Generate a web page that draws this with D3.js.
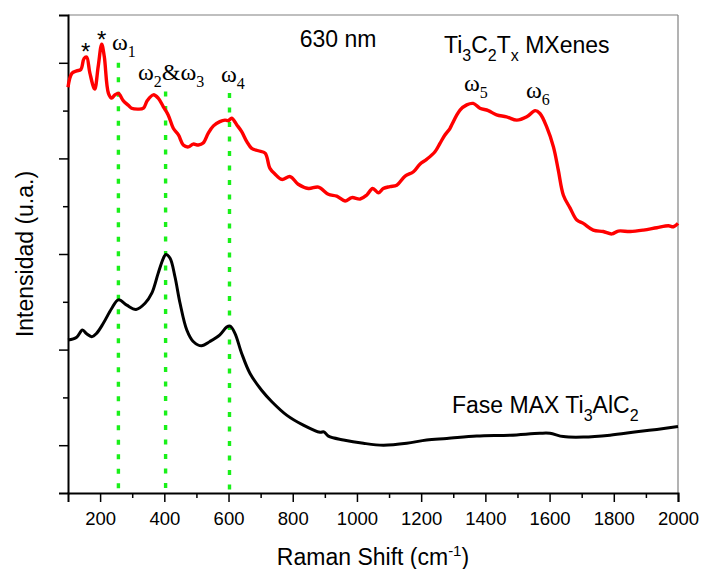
<!DOCTYPE html>
<html lang="en">
<head>
<meta charset="UTF-8">
<title>Raman Ti3C2Tx</title>
<script src="https://cdnjs.cloudflare.com/ajax/libs/d3/7.8.5/d3.min.js"></script>
<style>
  body { margin: 0; background: #fff; }
  text { font-family: "Liberation Sans", Arial, sans-serif; fill: #000; }
  .greek { font-family: "Liberation Serif", "Times New Roman", serif; }
</style>
</head>
<body>
<svg id="chart" width="703" height="569"></svg>
<script>
// Raman shift (cm-1) and intensity (a.u.)
var mxeneShift = [100, 112, 127, 140, 150, 158, 168, 183, 194, 205, 213, 226, 236, 246, 257, 272, 288, 298, 319, 335,
  347, 366, 381, 397, 412, 428, 444, 459, 475, 490, 506, 521, 537, 553, 573, 589, 599, 610, 626, 641,
  657, 672, 693, 714, 729, 745, 766, 792, 817, 849, 880, 911, 937, 963, 984, 1010, 1030, 1049, 1067, 1082,
  1103, 1124, 1150, 1176, 1196, 1217, 1243, 1259, 1274, 1290, 1295, 1321, 1342, 1362, 1383, 1409, 1435, 1466, 1498, 1529,
  1555, 1570, 1591, 1612, 1627, 1643, 1664, 1685, 1705, 1736, 1767, 1794, 1814, 1851, 1892, 1934, 1970, 1986, 2000];
var mxeneInt = [8.49, 8.78, 8.83, 8.86, 9.09, 9.12, 8.79, 8.45, 8.92, 9.39, 9.13, 8.36, 8.26, 8.33, 8.36, 8.21, 8.11, 8.05, 8.03, 8.05,
  8.21, 8.33, 8.26, 8.08, 7.91, 7.63, 7.49, 7.28, 7.24, 7.30, 7.28, 7.32, 7.53, 7.68, 7.77, 7.80, 7.79, 7.84, 7.70, 7.56,
  7.35, 7.21, 7.16, 7.11, 6.79, 6.67, 6.56, 6.62, 6.46, 6.37, 6.40, 6.25, 6.21, 6.11, 6.18, 6.15, 6.23, 6.37, 6.28, 6.37,
  6.41, 6.44, 6.63, 6.72, 6.88, 6.98, 7.14, 7.32, 7.49, 7.63, 7.70, 8.01, 8.12, 8.15, 8.05, 8.00, 7.91, 7.87, 7.80, 7.87,
  8.00, 7.94, 7.66, 7.24, 6.76, 6.23, 5.96, 5.71, 5.64, 5.50, 5.47, 5.42, 5.48, 5.47, 5.50, 5.55, 5.59, 5.57, 5.64];

var maxShift = [100, 127, 145, 158, 174, 189, 210, 236, 257, 283, 312, 340, 361, 381, 397, 405, 418, 433, 449, 470,
  490, 516, 542, 573, 594, 605, 620, 641, 667, 703, 735, 781, 833, 885, 897, 911, 958, 1020, 1082, 1155,
  1217, 1280, 1373, 1477, 1570, 1601, 1643, 1705, 1788, 1871, 1934, 2000];
var maxInt = [3.20, 3.26, 3.41, 3.33, 3.27, 3.34, 3.55, 3.86, 4.04, 3.93, 3.84, 3.97, 4.18, 4.60, 4.91, 4.99, 4.91, 4.53, 3.97, 3.41,
  3.17, 3.08, 3.17, 3.31, 3.47, 3.49, 3.34, 2.92, 2.50, 2.15, 1.91, 1.63, 1.42, 1.27, 1.28, 1.19, 1.11, 1.04, 1.00, 1.04,
  1.11, 1.14, 1.19, 1.21, 1.25, 1.25, 1.18, 1.17, 1.21, 1.28, 1.33, 1.39];

// marked modes: position and top of the dotted line
var modeShift = [257, 404, 603];
var modeTop = [9.0, 8.4, 8.37];

var xTicksMajor = [200, 400, 600, 800, 1000, 1200, 1400, 1600, 1800, 2000];
var xTicksMinor = [300, 500, 700, 900, 1100, 1300, 1500, 1700, 1900];
var yTicksMajor = [1, 3, 5, 7, 9];
var yTicksMinor = [2, 4, 6, 8];

var plot = {left: 68, right: 678, top: 15, bottom: 493};
var svg = d3.select('#chart');

var x = d3.scaleLinear().domain([100, 2000]).range([plot.left, plot.right]);
var y = d3.scaleLinear().domain([0, 10]).range([plot.bottom, plot.top]);

// frame: top and right in grey
svg.append('line').attr('x1', plot.left).attr('x2', plot.right).attr('y1', plot.top).attr('y2', plot.top)
  .style('stroke', '#808080').style('stroke-width', 1.2);
svg.append('line').attr('x1', plot.right).attr('x2', plot.right).attr('y1', plot.top).attr('y2', plot.bottom)
  .style('stroke', '#808080').style('stroke-width', 1.2);

// dotted green lines at the modes
svg.append('g').selectAll('line').data(modeShift).join('line')
  .attr('x1', function (d) { return x(d); })
  .attr('x2', function (d) { return x(d); })
  .attr('y1', function (d, i) { return y(modeTop[i]); })
  .attr('y2', y(0))
  .style('stroke', '#19f019')
  .style('stroke-width', 3.4)
  .style('stroke-dasharray', '5,9.5');

// x axis
var xAxis = svg.append('g').attr('transform', 'translate(0,' + plot.bottom + ')');
xAxis.call(d3.axisBottom(x).tickValues(xTicksMajor).tickSize(9).tickPadding(10).tickFormat(d3.format('d')));
xAxis.append('g').call(d3.axisBottom(x).tickValues(xTicksMinor).tickSize(5).tickFormat(''));
xAxis.selectAll('g g path.domain').remove();
xAxis.selectAll('path.domain').style('stroke', '#000').style('stroke-width', 2);
xAxis.selectAll('.tick line').style('stroke', '#000').style('stroke-width', 1.5);
xAxis.selectAll('.tick text').style('font-size', '18.5px').style('font-family', '"Liberation Sans", Arial, sans-serif');

// y axis
var yAxis = svg.append('g').attr('transform', 'translate(' + plot.left + ',0)');
yAxis.call(d3.axisLeft(y).tickValues(yTicksMajor).tickSize(9).tickFormat(''));
yAxis.append('g').call(d3.axisLeft(y).tickValues(yTicksMinor).tickSize(5).tickFormat(''));
yAxis.selectAll('g g path.domain').remove();
yAxis.selectAll('path.domain').style('stroke', '#000').style('stroke-width', 2);
yAxis.selectAll('.tick line').style('stroke', '#000').style('stroke-width', 1.5);

// spectra
var line = d3.line()
  .x(function (d) { return x(d[0]); })
  .y(function (d) { return y(d[1]); });

svg.append('path')
  .datum(d3.zip(maxShift, maxInt))
  .attr('d', line.curve(d3.curveCatmullRom.alpha(0.5)))
  .style('fill', 'none').style('stroke', '#000').style('stroke-width', 3)
  .style('stroke-linejoin', 'round');

svg.append('path')
  .datum(d3.zip(mxeneShift, mxeneInt))
  .attr('d', line.curve(d3.curveCatmullRom.alpha(0.5)))
  .style('fill', 'none').style('stroke', '#ff0000').style('stroke-width', 3.4)
  .style('stroke-linejoin', 'round');

// labels
svg.append('text').attr('x', 338).attr('y', 47).style('font-size', '23px')
  .style('text-anchor', 'middle').text('630 nm');

var t1 = svg.append('text').attr('x', 444).attr('y', 53).style('font-size', '23px');
t1.append('tspan').text('Ti');
t1.append('tspan').attr('dy', 8).style('font-size', '16px').text('3');
t1.append('tspan').attr('dy', -8).text('C');
t1.append('tspan').attr('dy', 8).style('font-size', '16px').text('2');
t1.append('tspan').attr('dy', -8).text('T');
t1.append('tspan').attr('dy', 8).style('font-size', '16px').text('x');
t1.append('tspan').attr('dy', -8).text(' MXenes');

var t2 = svg.append('text').attr('x', 452).attr('y', 413).style('font-size', '23px');
t2.append('tspan').text('Fase MAX Ti');
t2.append('tspan').attr('dy', 8).style('font-size', '16px').text('3');
t2.append('tspan').attr('dy', -8).text('AlC');
t2.append('tspan').attr('dy', 8).style('font-size', '16px').text('2');

// stars on the two low-shift peaks
svg.append('text').attr('x', x(155)).attr('y', 60).style('font-size', '24px')
  .style('text-anchor', 'middle').text('*');
svg.append('text').attr('x', x(205)).attr('y', 48).style('font-size', '24px')
  .style('text-anchor', 'middle').text('*');

// omega labels
function omega(px, py, parts) {
  var t = svg.append('text').attr('class', 'greek').attr('x', px).attr('y', py).style('font-size', '24px');
  parts.forEach(function (p) {
    if (p.sub) {
      t.append('tspan').attr('dy', 7).style('font-size', '16px').text(p.s);
    } else {
      t.append('tspan').attr('dy', p.after ? -7 : 0).text(p.s);
    }
  });
}
omega(112, 50, [{s: '\u03c9'}, {s: '1', sub: true}]);
omega(138, 80, [{s: '\u03c9'}, {s: '2', sub: true}, {s: '&\u03c9', after: true}, {s: '3', sub: true}]);
omega(221, 82, [{s: '\u03c9'}, {s: '4', sub: true}]);
omega(464, 91, [{s: '\u03c9'}, {s: '5', sub: true}]);
omega(526, 98, [{s: '\u03c9'}, {s: '6', sub: true}]);

// axis titles
var xt = svg.append('text').attr('x', (plot.left + plot.right) / 2).attr('y', 565)
  .style('font-size', '23px').style('text-anchor', 'middle');
xt.append('tspan').text('Raman Shift (cm');
xt.append('tspan').attr('dy', -9).style('font-size', '15px').text('-1');
xt.append('tspan').attr('dy', 9).text(')');

svg.append('text')
  .attr('transform', 'translate(33,' + (plot.top + plot.bottom) / 2 + ') rotate(-90)')
  .style('font-size', '23px').style('text-anchor', 'middle')
  .text('Intensidad (u.a.)');
</script>
</body>
</html>
